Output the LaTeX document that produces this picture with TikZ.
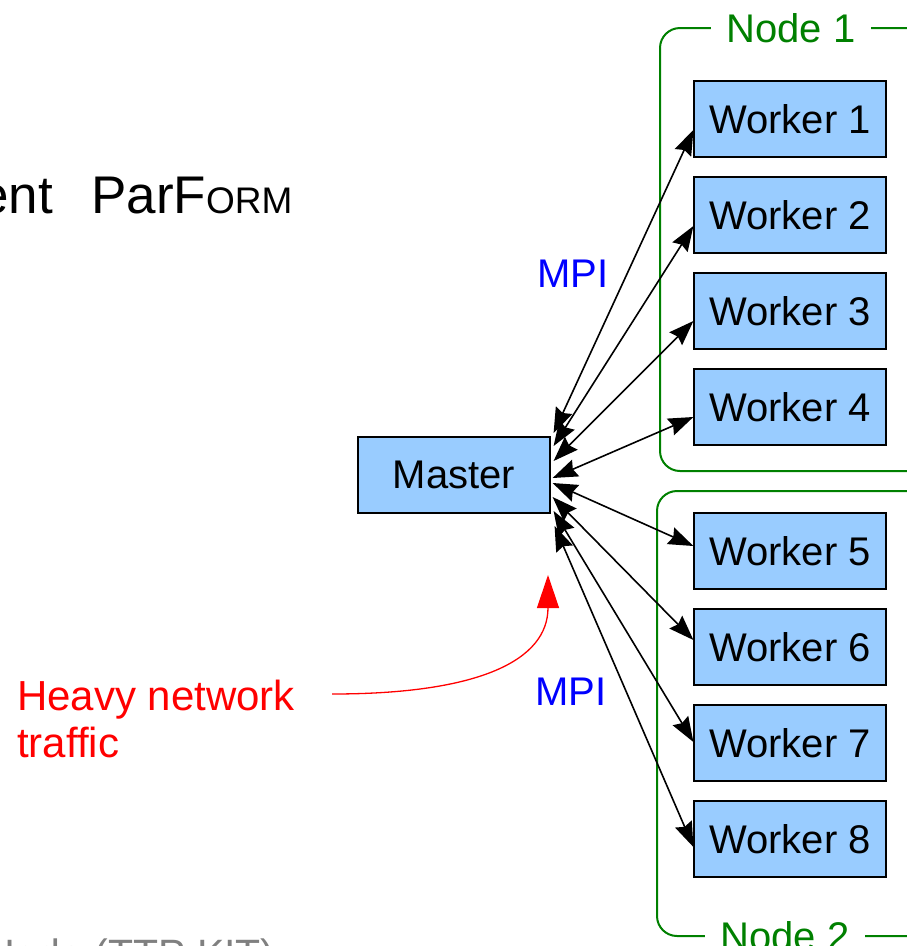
\documentclass[tikz,border=0pt]{standalone}
\usepackage{fontspec}
\setmainfont{Liberation Sans}
\usetikzlibrary{arrows.meta,calc}
\definecolor{boxblue}{HTML}{99CCFF}
\definecolor{framegreen}{HTML}{008000}
\definecolor{mpiblue}{HTML}{0000FF}
\definecolor{notered}{HTML}{FF0000}
\definecolor{footgray}{HTML}{808080}

\begin{document}
\begin{tikzpicture}[x=1pt,y=-1pt,
  proc/.style={draw=black, line width=1.2pt, fill=boxblue,
    minimum width=192pt, minimum height=76pt, inner sep=0pt,
    font=\fontsize{40}{48}\selectfont},
  hostframe/.style={draw=framegreen, line width=2pt, rounded corners=20pt},
  hostlabel/.style={fill=white, text=framegreen, inner xsep=16pt, inner ysep=0pt,
    font=\fontsize{40}{48}\selectfont},
  mpilabel/.style={text=mpiblue, inner sep=0pt, font=\fontsize{40}{48}\selectfont},
  link/.style={{Stealth[length=25pt,width=18pt,inset=3pt]}-{Stealth[length=25pt,width=18pt,inset=3pt]},
    line width=1.6pt, draw=black},
  hint/.style={-{Triangle[length=33pt,width=22pt]}, line width=1.3pt, draw=notered}]

\useasboundingbox (0,0) rectangle (906,946);

% slide title and footer (cut by the page edge)
\node[anchor=base east, inner sep=0pt, font=\fontsize{53}{60}\selectfont] (ttlA) at (53,213) {ent};
\node[anchor=base west, inner sep=0pt, font=\fontsize{53}{60}\selectfont] (ttlB) at (91,213)
  {ParF{\fontsize{37}{40}\selectfont ORM}};
\node[anchor=base west, inner sep=0pt, text=footgray, font=\fontsize{41}{46}\selectfont] (foot) at (-15,968)
  {Ueda (TTP KIT)};

% host frames
\draw[hostframe] (660,28) rectangle (960,471);
\draw[hostframe] (657,491) rectangle (960,936);
\node[hostlabel] (host1) at (791,28) {Node 1};
\node[hostlabel] (host2) at (785,936) {Node 2};

% processes
\node[proc] (master) at (454,475) {Master};
\node[proc] (w1) at (790,119) {Worker 1};
\node[proc] (w2) at (790,215) {Worker 2};
\node[proc] (w3) at (790,311) {Worker 3};
\node[proc] (w4) at (790,407) {Worker 4};
\node[proc] (w5) at (790,551) {Worker 5};
\node[proc] (w6) at (790,647) {Worker 6};
\node[proc] (w7) at (790,743) {Worker 7};
\node[proc] (w8) at (790,839) {Worker 8};

% MPI links between master and workers
\draw[link] ($(master.east)+(3,-42)$) -- ($(w1.west)+(0,11)$);
\draw[link] ($(master.east)+(3,-29)$) -- ($(w2.west)+(0,11)$);
\draw[link] ($(master.east)+(3,-14)$) -- ($(w3.west)+(0,10)$);
\draw[link] ($(master.east)+(2,3)$)   -- ($(w4.west)+(0,10)$);
\draw[link] ($(master.east)+(2,8)$)   -- ($(w5.west)+(0,-5)$);
\draw[link] ($(master.east)+(2,22)$)  -- ($(w6.west)+(0,-7)$);
\draw[link] ($(master.east)+(3,36)$)  -- ($(w7.west)+(0,-1)$);
\draw[link] ($(master.east)+(4,51)$)  -- ($(w8.west)+(0,8)$);

\node[mpilabel] (mpiA) at (573,274) {MPI};
\node[mpilabel] (mpiB) at (571,692) {MPI};

% annotation
\node[anchor=north west, inner sep=0pt, align=left, text=notered,
  font=\fontsize{42}{47}\selectfont] (heavy) at (17,680) {Heavy network\\traffic};
\coordinate (hintFrom) at (332,694);
\coordinate (hintTo) at (548,575);
\draw[hint] (hintFrom) .. controls (480,694) and (548,660) .. (hintTo);

\end{tikzpicture}
\end{document}
